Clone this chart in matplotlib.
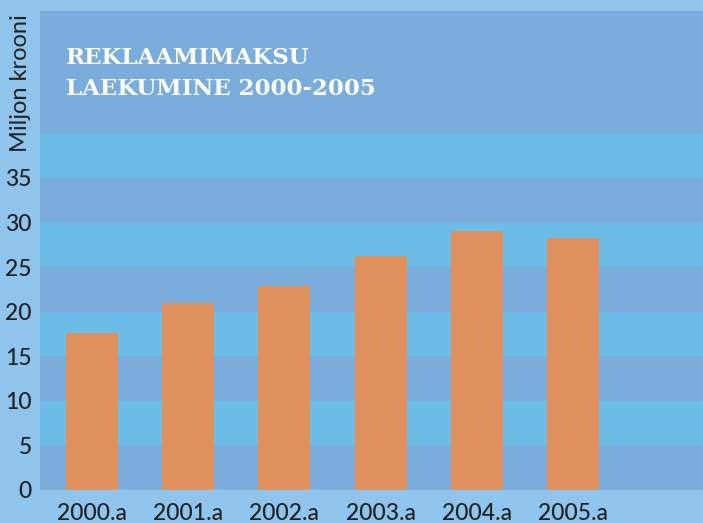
import matplotlib
matplotlib.use("Agg")
import matplotlib.pyplot as plt

# Data (million kroons per year)
years = ["2000.a", "2001.a", "2002.a", "2003.a", "2004.a", "2005.a"]
values = [17.6, 21.0, 22.9, 26.2, 29.0, 28.3]
yticks = [0, 5, 10, 15, 20, 25, 30, 35]

outer_bg = "#8fc4ec"
band_dark = "#7aaddc"
band_light = "#6cbce8"
bar_color = "#e0905c"
text_color = "#222222"

W, H = 703, 523
fig = plt.figure(figsize=(W / 100, H / 100), dpi=100)
fig.patch.set_facecolor(outer_bg)

ax = fig.add_axes([40 / W, 33 / H, 663 / W, 479 / H])
ax.set_facecolor(band_dark)

ymax = 53.7
# light stripes every other 5 units
for lo in range(5, 45, 10):
    ax.axhspan(lo, lo + 5, color=band_light, lw=0, zorder=0)

x = list(range(len(years)))
ax.bar(x, values, width=0.54, color=bar_color, zorder=2)

ax.set_xlim(-0.54, 6.35)
ax.set_ylim(0, ymax)
ax.set_xticks(x)
ax.set_xticklabels(years)
ax.set_yticks(yticks)
for s in ax.spines.values():
    s.set_visible(False)
ax.tick_params(axis="both", length=0, colors=text_color)
ax.tick_params(axis="x", pad=9, labelsize=16.5)
ax.tick_params(axis="y", pad=6, labelsize=16.5)
for lab in ax.get_xticklabels() + ax.get_yticklabels():
    lab.set_family(["Lato", "DejaVu Sans"])
    lab.set_fontweight("medium")

fig.text(21 / W, 1 - 83 / H, "Miljon krooni", rotation=90, ha="center", va="center",
         fontsize=17, color=text_color, family=["Lato", "DejaVu Sans"])

title_kw = dict(ha="left", va="center", color="white", fontsize=16.5,
                fontweight="heavy", family=["DejaVu Serif"])
fig.text(66 / W, 1 - 58 / H, "REKLAAMIMAKSU", **title_kw)
fig.text(66 / W, 1 - 89 / H, "LAEKUMINE 2000-2005", **title_kw)

fig.savefig("out.png", dpi=100, facecolor=outer_bg)
